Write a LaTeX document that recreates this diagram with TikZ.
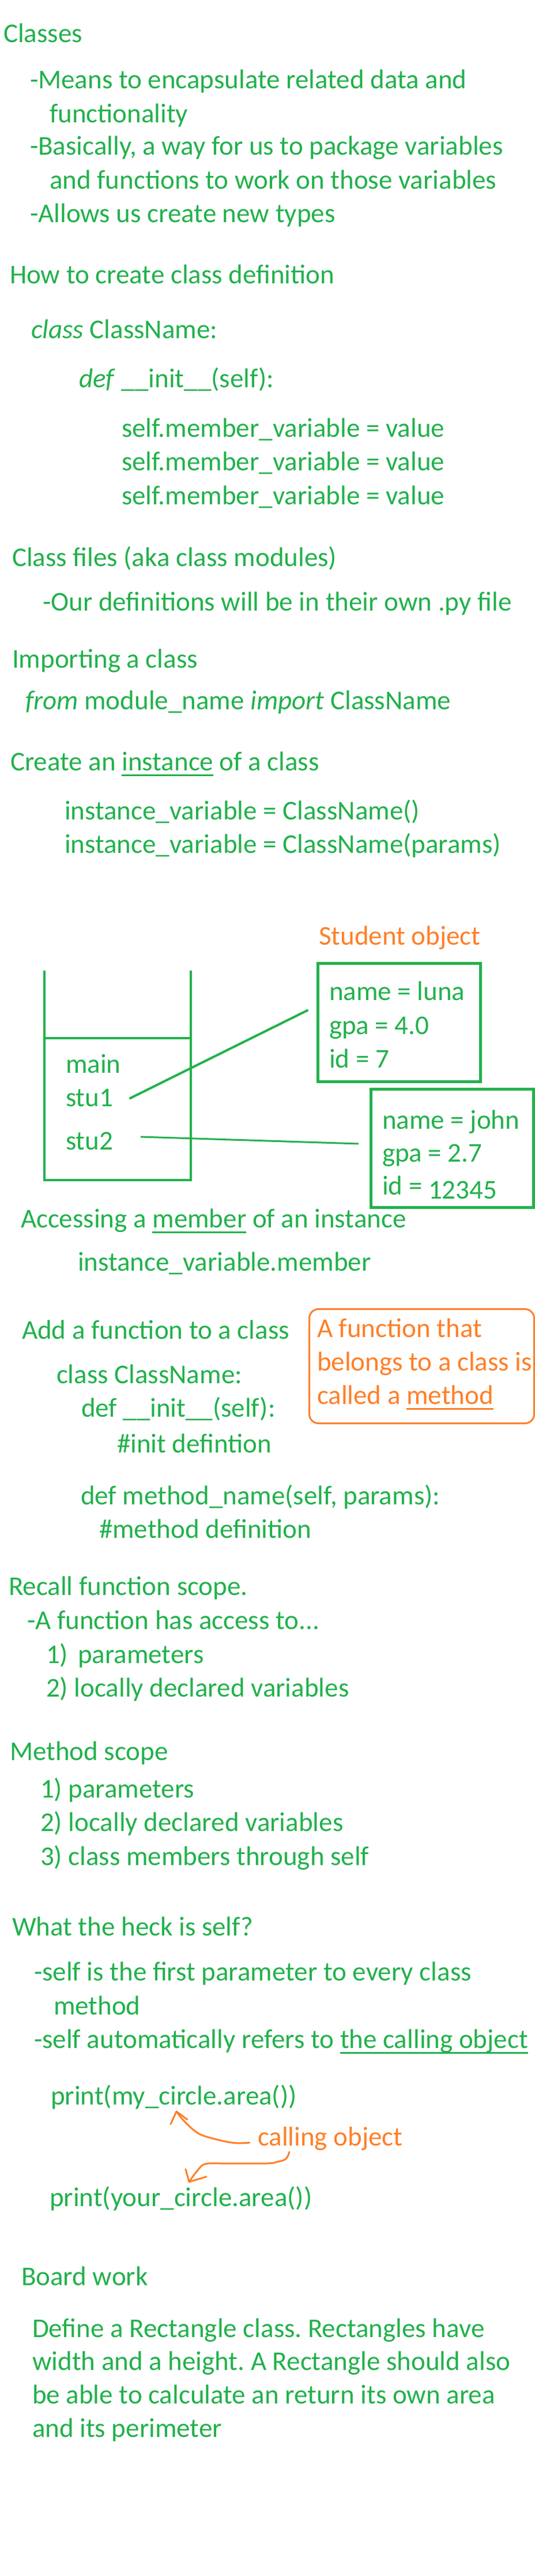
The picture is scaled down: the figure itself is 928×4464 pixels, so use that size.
\documentclass[tikz,border=0pt]{standalone}
\usepackage{fontspec}
\setmainfont{Carlito}
\definecolor{pgreen}{RGB}{34,177,76}
\definecolor{porange}{RGB}{255,127,39}
\newcommand\fsz{\fontsize{47pt}{56pt}\selectfont\frenchspacing}
\newsavebox\ulbox
\newcommand\myul[1]{\sbox\ulbox{#1}\rlap{\rule[-10pt]{\wd\ulbox}{3pt}}\usebox\ulbox}
\tikzset{
  txt/.style={anchor=base west, inner sep=0pt, outer sep=0pt, text=pgreen, font=\fsz},
  otxt/.style={txt, text=porange},
  objbox/.style={draw=pgreen, line width=4.5pt, anchor=north west, minimum width=282pt, minimum height=205pt, inner sep=0pt},
  frameline/.style={draw=pgreen, line width=4pt},
  link/.style={draw=pgreen, line width=4pt, line cap=round},
  thinlink/.style={draw=pgreen, line width=3pt},
  notebox/.style={draw=porange, line width=3pt, rounded corners=16pt, anchor=north west, minimum width=390pt, minimum height=198pt, inner sep=0pt},
  handarrow/.style={draw=porange, line width=3pt, line cap=round, line join=round}
}
\begin{document}
\begin{tikzpicture}[x=1pt,y=-1pt]
\fill[white] (0,0) rectangle (928,4464);
\useasboundingbox (0,0) rectangle (928,4464);

% Classes
\node[txt] (classes) at (6,74) {Classes};
\node[txt] (c1) at (52,154) {-Means to encapsulate related data and};
\node[txt] (c1b) at (86,212) {functionality};
\node[txt] (c2) at (52,268) {-Basically, a way for us to package variables};
\node[txt] (c2b) at (86,327) {and functions to work on those variables};
\node[txt] (c3) at (52,385) {-Allows us create new types};

% class definition
\node[txt] (howto) at (17,491) {How to create class definition};
\node[txt] (cls) at (54,586) {\textit{class} ClassName:};
\node[txt] (init) at (137,671) {\textit{def} \_\_init\_\_(self):};
\node[txt] (m1) at (211,757) {self.member\_variable = value};
\node[txt] (m2) at (211,815) {self.member\_variable = value};
\node[txt] (m3) at (211,874) {self.member\_variable = value};

% class files
\node[txt] (files) at (21,981) {Class files (aka class modules)};
\node[txt] (files1) at (74,1058) {-Our definitions will be in their own .py file};
\node[txt] (imp) at (21,1157) {Importing a class};
\node[txt] (imp1) at (44,1229) {\textit{from} module\_name \textit{import} ClassName};

% instances
\node[txt] (inst) at (18,1335) {Create an \myul{instance} of a class};
\node[txt] (inst1) at (112,1420) {instance\_variable = ClassName()};
\node[txt] (inst2) at (112,1478) {instance\_variable = ClassName(params)};

% memory diagram
\node[otxt] (stuobj) at (553,1637) {Student object};
\draw[frameline] (77,1682) -- (77,2045) -- (331,2045) -- (331,1682);
\draw[frameline] (77,1799) -- (331,1799);
\node[txt] (main) at (114,1859) {main};
\node[txt] (stu1) at (114,1917) {stu1};
\node[txt] (stu2) at (114,1992) {stu2};

\node[objbox] (luna) at (549,1667) {};
\node[txt] (l1) at (571,1733) {name = luna};
\node[txt] (l2) at (571,1792) {gpa = 4.0};
\node[txt] (l3) at (571,1850) {id = 7};

\node[objbox] (john) at (641,1885) {};
\node[txt] (j1) at (663,1956) {name = john};
\node[txt] (j2) at (663,2013) {gpa = 2.7};
\node[txt] (j3) at (663,2070) {id = \raisebox{-7pt}{12345}};

\coordinate (s1a) at (226,1903);
\coordinate (s1b) at (533,1751);
\coordinate (s2a) at (244,1970);
\coordinate (s2b) at (622,1982);
\draw[link] (s1a) -- (s1b);
\draw[thinlink] (s2a) -- (s2b);

% accessing members
\node[txt] (acc) at (36,2127) {Accessing a \myul{member} of an instance};
\node[txt] (acc1) at (135,2202) {instance\_variable.member};

% methods
\node[txt] (addf) at (38,2320) {Add a function to a class};
\node[notebox] (note) at (535,2267) {};
\node[otxt] (n1) at (550,2317) {A function that};
\node[otxt] (n2) at (550,2375) {belongs to a class is};
\node[otxt] (n3) at (550,2433) {called a \myul{method}};
\node[txt] (cls2) at (98,2397) {class ClassName:};
\node[txt] (init2) at (141,2455) {def \_\_init\_\_(self):};
\node[txt] (initc) at (203,2517) {\#init defintion};
\node[txt] (meth) at (140,2607) {def method\_name(self, params):};
\node[txt] (methc) at (172,2665) {\#method definition};

% scope
\node[txt] (recall) at (15,2764) {Recall function scope.};
\node[txt] (r1) at (47,2823) {-A function has access to...};
\node[txt] (r2) at (80,2882) {1)\hspace{17pt}parameters};
\node[txt] (r3) at (80,2940) {2) locally declared variables};
\node[txt] (ms) at (17,3050) {Method scope};
\node[txt] (ms1) at (70,3115) {1) parameters};
\node[txt] (ms2) at (70,3173) {2) locally declared variables};
\node[txt] (ms3) at (70,3232) {3) class members through self};

% self
\node[txt] (what) at (21,3354) {What the heck is self?};
\node[txt] (w1) at (59,3432) {-self is the first parameter to every class};
\node[txt] (w1b) at (93,3491) {method};
\node[txt] (w2) at (59,3549) {-self automatically refers to \myul{the calling object}};
\node[txt] (p1) at (88,3647) {print(my\_circle.area())};
\node[otxt] (callobj) at (447,3718) {calling object};
\node[txt] (p2) at (86,3823) {print(your\_circle.area())};

\coordinate (a1s) at (433,3713);
\coordinate (a1t) at (306,3659);
\coordinate (a2s) at (502,3729);
\coordinate (a2t) at (328,3781);
\draw[handarrow] plot[smooth, tension=0.6] coordinates {(433,3713) (402,3713) (356,3702) (337,3692) (318,3674) (306,3659)};
\draw[handarrow] (296,3681) -- (a1t) -- (325,3673);
\draw[handarrow] plot[smooth, tension=0.6] coordinates {(502,3729) (496,3741) (482,3746) (462,3749) (391,3749) (356,3750) (342,3762) (328,3781)};
\draw[handarrow] (322,3759) -- (a2t) -- (358,3772);

% board work
\node[txt] (board) at (37,3960) {Board work};
\node[txt] (b1) at (56,4050) {Define a Rectangle class. Rectangles have};
\node[txt] (b2) at (56,4107) {width and a height. A Rectangle should also};
\node[txt] (b3) at (56,4165) {be able to calculate an return its own area};
\node[txt] (b4) at (56,4223) {and its perimeter};
\end{tikzpicture}
\end{document}
